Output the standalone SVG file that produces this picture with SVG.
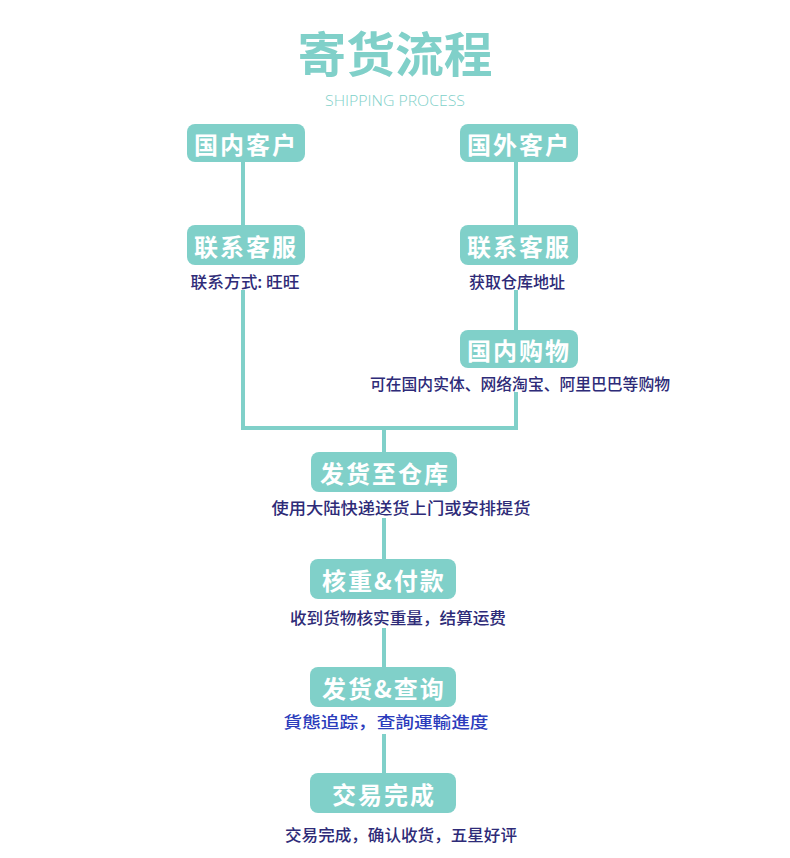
<svg xmlns="http://www.w3.org/2000/svg" width="790" height="858" viewBox="0 0 790 858">
<style>
.box{fill:#80d0c9;}
.bt{font-family:"Noto Sans CJK SC","Noto Sans",sans-serif;font-weight:bold;font-size:24px;fill:#ffffff;text-anchor:middle;dominant-baseline:central;letter-spacing:2px;}
.st{font-family:"Noto Sans CJK SC","Noto Sans",sans-serif;font-weight:500;font-size:16px;fill:#2e2b78;text-anchor:middle;dominant-baseline:central;}
.blue{fill:#2b3cbc;}
.ln{stroke:#80d0c9;stroke-width:4;fill:none;}
</style>
<rect width="790" height="858" fill="#ffffff"/>
<g id="title">
<text x="395" y="51" font-family="'Noto Sans CJK SC',sans-serif" font-weight="bold" font-size="48" fill="#80d0c9" text-anchor="middle" dominant-baseline="central" textLength="195" lengthAdjust="spacingAndGlyphs">寄货流程</text>
<text x="395" y="100" font-family="'Open Sans','Noto Sans',sans-serif" font-weight="300" font-size="15" fill="#80d0c9" text-anchor="middle" dominant-baseline="central" textLength="140" lengthAdjust="spacingAndGlyphs">SHIPPING PROCESS</text>
</g>
<g id="connectors">
<path class="ln" d="M243 160 V226"/>
<path class="ln" d="M243 290 V428 H516 V392"/>
<path class="ln" d="M516 160 V226"/>
<path class="ln" d="M516 290 V331"/>
<path class="ln" d="M384 428 V453"/>
<path class="ln" d="M384 518 V560"/>
<path class="ln" d="M384 628 V668"/>
<path class="ln" d="M384 734 V774"/>
</g>
<g id="n1">
<rect class="box" x="187" y="124" width="118" height="38" rx="8"/>
<text class="bt" x="246" y="143">国内客户</text>
</g>
<g id="n2">
<rect class="box" x="460" y="124" width="118" height="38" rx="8"/>
<text class="bt" x="519" y="143">国外客户</text>
</g>
<g id="n3">
<rect class="box" x="187" y="225" width="118" height="40" rx="8"/>
<text class="bt" x="246" y="245">联系客服</text>
<text class="st" x="245" y="281" textLength="109" lengthAdjust="spacingAndGlyphs">联系方式: 旺旺</text>
</g>
<g id="n4">
<rect class="box" x="460" y="225" width="118" height="40" rx="8"/>
<text class="bt" x="519" y="245">联系客服</text>
<text class="st" x="517" y="281">获取仓库地址</text>
</g>
<g id="n5">
<rect class="box" x="460" y="330" width="118" height="38" rx="8"/>
<text class="bt" x="519" y="349">国内购物</text>
<text class="st" x="520" y="383" textLength="300" lengthAdjust="spacingAndGlyphs">可在国内实体、网络淘宝、阿里巴巴等购物</text>
</g>
<g id="n6">
<rect class="box" x="311" y="452" width="146" height="40" rx="8"/>
<text class="bt" x="385" y="472">发货至仓库</text>
<text class="st" x="401" y="507" textLength="259" lengthAdjust="spacingAndGlyphs">使用大陆快递送货上门或安排提货</text>
</g>
<g id="n7">
<rect class="box" x="310" y="559" width="146" height="40" rx="8"/>
<text class="bt" x="384" y="579">核重&amp;付款</text>
<text class="st" x="398" y="617" textLength="216" lengthAdjust="spacingAndGlyphs">收到货物核实重量，结算运费</text>
</g>
<g id="n8">
<rect class="box" x="310" y="667" width="146" height="40" rx="8"/>
<text class="bt" x="384" y="687">发货&amp;查询</text>
<text class="st blue" x="386" y="721" textLength="205" lengthAdjust="spacingAndGlyphs">貨態追踪，查詢運輸進度</text>
</g>
<g id="n9">
<rect class="box" x="310" y="773" width="146" height="40" rx="8"/>
<text class="bt" x="384" y="793">交易完成</text>
<text class="st" x="401" y="834" textLength="232" lengthAdjust="spacingAndGlyphs">交易完成，确认收货，五星好评</text>
</g>
</svg>
